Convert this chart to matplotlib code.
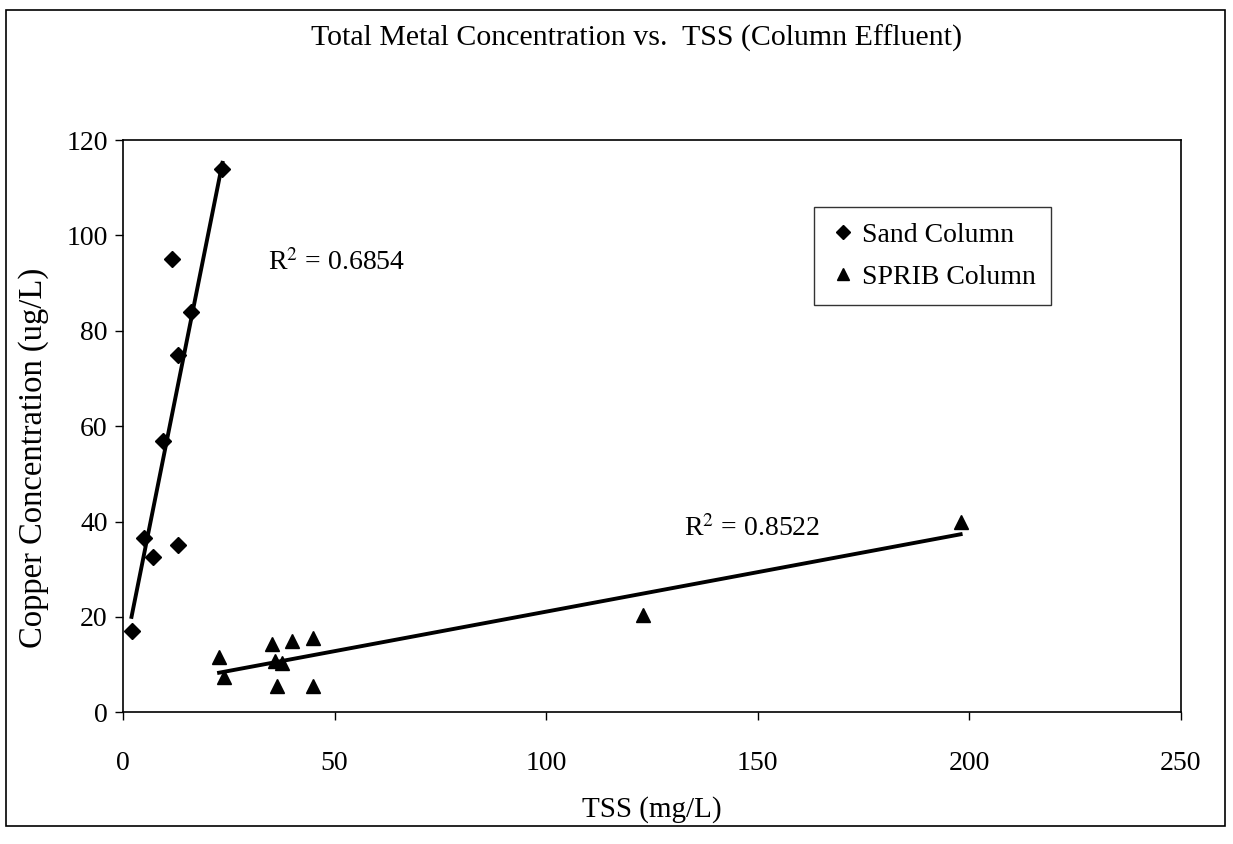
import matplotlib
matplotlib.use("Agg")
import matplotlib.pyplot as plt
import numpy as np
from matplotlib.patches import Rectangle

plt.rcParams["font.family"] = ["Liberation Serif", "DejaVu Serif"]
plt.rcParams["mathtext.fontset"] = "stix"

# Sand column effluent: TSS (mg/L) vs copper (ug/L)
sand_tss = [2, 5, 7, 9.5, 11.6, 13, 13, 16, 23.5]
sand_cu = [17, 36.5, 32.5, 57, 95, 75, 35, 84, 114]

# SPRIB column effluent
sprib_tss = [22.7, 23.8, 35.3, 36, 37.5, 36.3, 40, 44.8, 44.8, 123, 198]
sprib_cu = [11.5, 7.5, 14.3, 10.8, 10.3, 5.5, 15, 15.5, 5.5, 20.5, 40]

sand_r2 = "0.6854"
sprib_r2 = "0.8522"

fig = plt.figure(figsize=(12.33, 8.44), dpi=100)
ax = fig.add_axes([0.0998, 0.156, 0.8577, 0.678])

ax.plot(sand_tss, sand_cu, linestyle="none", marker="D", color="black",
        markersize=8, label="Sand Column")
ax.plot(sprib_tss, sprib_cu, linestyle="none", marker="^", color="black",
        markersize=10, label="SPRIB Column")

# linear trend lines over the range of each series
for xs, ys in ((sand_tss, sand_cu), (sprib_tss, sprib_cu)):
    m, b = np.polyfit(xs, ys, 1)
    xx = np.array([min(xs), max(xs)])
    ax.plot(xx, m * xx + b, color="black", linewidth=2.8)

ax.text(34.2, 94.3, "R$^2$ = " + sand_r2, fontsize=20, va="center")
ax.text(132.5, 38.5, "R$^2$ = " + sprib_r2, fontsize=20, va="center")

ax.set_xlim(0, 250)
ax.set_ylim(0, 120)
ax.set_xticks(range(0, 251, 50))
ax.set_yticks(range(0, 121, 20))
ax.tick_params(axis="both", labelsize=20, direction="out", length=6, width=1)
ax.tick_params(axis="x", pad=22)
ax.tick_params(axis="y", pad=5)
ax.set_xlabel("TSS (mg/L)", fontsize=21, labelpad=14)
ax.set_ylabel("Copper Concentration (ug/L)", fontsize=23.5)
ax.yaxis.set_label_coords(-0.07, 0.444)
for s in ax.spines.values():
    s.set_linewidth(1.2)

leg = ax.legend(loc="upper left", bbox_to_anchor=(0.653, 0.883), fontsize=20,
                frameon=True, fancybox=False, edgecolor="black",
                borderaxespad=0, handletextpad=0.2, handlelength=1.0,
                borderpad=0.55, labelspacing=0.6, markerscale=0.85)
leg.get_frame().set_linewidth(1.0)

fig.text(0.516, 0.955, "Total Metal Concentration vs.  TSS (Column Effluent)",
         fontsize=21.5, ha="center", va="center")

fig.patches.append(Rectangle((6 / 1233, 1 - 826 / 844), 1219 / 1233, 816 / 844,
                             transform=fig.transFigure, fill=False,
                             edgecolor="black", linewidth=1.2))

fig.savefig("out.png", dpi=100)
